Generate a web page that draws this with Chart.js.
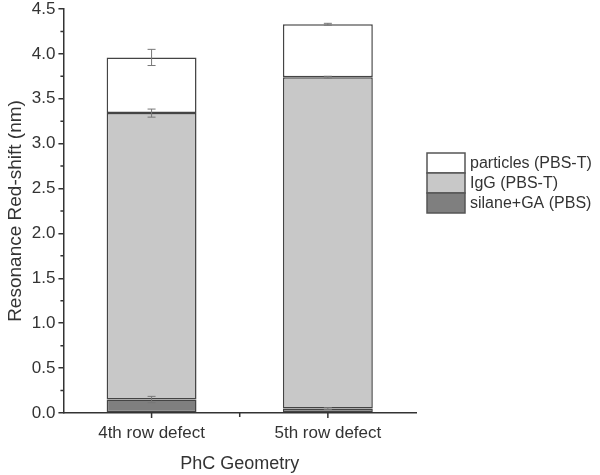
<!DOCTYPE html>
<html>
<head>
<meta charset="utf-8">
<script src="https://cdn.jsdelivr.net/npm/chart.js@4/dist/chart.umd.min.js"></script>
<style>
  html, body { margin: 0; padding: 0; background: #fff; }
  #wrap { width: 600px; height: 475px; position: relative; }
</style>
</head>
<body>
<div id="wrap"><canvas id="chart" width="600" height="475"></canvas></div>
<script>
// data
const categories = ['4th row defect', '5th row defect'];
const silaneVals = [0.15, 0.05];
const silaneErr = [0.035, 0.01];
const iggVals = [3.19, 3.69];
const iggErr = [0.045, 0.01];
const particleVals = [0.62, 0.59];
const particleErr = [0.09, 0.01];
const yTicks = [0, 0.5, 1.0, 1.5, 2.0, 2.5, 3.0, 3.5, 4.0, 4.5];

const textColor = '#333';
const font = 'Liberation Sans, Arial, sans-serif';

// error bars, minor ticks, x tick marks and legend
const extrasPlugin = {
    id: 'extras',
    afterDatasetsDraw(chart) {
        const ctx = chart.ctx;
        const y = chart.scales.y;
        ctx.save();
        ctx.strokeStyle = '#777';
        ctx.lineWidth = 1;
        chart.data.datasets.forEach((ds, di) => {
            const meta = chart.getDatasetMeta(di);
            meta.data.forEach((bar, i) => {
                const err = ds.errors[i];
                const val = y.getValueForPixel(bar.y);
                const y1 = y.getPixelForValue(val + err);
                const y2 = y.getPixelForValue(val - err);
                const cx = bar.x;
                ctx.beginPath();
                ctx.moveTo(cx, y1); ctx.lineTo(cx, y2);
                ctx.moveTo(cx - 4, y1); ctx.lineTo(cx + 4, y1);
                ctx.moveTo(cx - 4, y2); ctx.lineTo(cx + 4, y2);
                ctx.stroke();
            });
        });
        ctx.restore();
    },
    afterDraw(chart) {
        const ctx = chart.ctx;
        const x = chart.scales.x;
        const y = chart.scales.y;
        const area = chart.chartArea;
        ctx.save();
        ctx.strokeStyle = textColor;
        ctx.lineWidth = 1.5;
        // minor y ticks
        ctx.beginPath();
        for (let v = 0.25; v < 4.5; v += 0.5) {
            const py = y.getPixelForValue(v);
            ctx.moveTo(area.left, py); ctx.lineTo(area.left - 3, py);
        }
        // x ticks at categories and between them
        categories.forEach((c, i) => {
            const px = x.getPixelForValue(i);
            ctx.moveTo(px, area.bottom); ctx.lineTo(px, area.bottom + 5);
        });
        const mid = (x.getPixelForValue(0) + x.getPixelForValue(1)) / 2;
        ctx.moveTo(mid, area.bottom); ctx.lineTo(mid, area.bottom + 4);
        ctx.stroke();

        // legend
        const items = chart.data.datasets.slice().reverse();
        const lx = 427, ly = 153, bw = 38, bh = 20;
        ctx.font = '16px ' + font;
        ctx.textBaseline = 'middle';
        items.forEach((ds, k) => {
            const top = ly + k * bh;
            ctx.fillStyle = ds.backgroundColor;
            ctx.fillRect(lx, top, bw, bh);
            ctx.strokeStyle = '#555';
            ctx.lineWidth = 1.5;
            ctx.strokeRect(lx, top, bw, bh);
            ctx.fillStyle = textColor;
            ctx.fillText(ds.label, lx + bw + 5, top + bh / 2 + 1);
        });
        ctx.restore();
    }
};

const barStyle = {
    borderColor: '#444',
    borderWidth: 1.5,
    borderSkipped: false,
    barPercentage: 0.51,
    categoryPercentage: 1.0
};

new Chart(document.getElementById('chart').getContext('2d'), {
    type: 'bar',
    data: {
        labels: categories,
        datasets: [
            { label: 'silane+GA (PBS)', data: silaneVals, errors: silaneErr, backgroundColor: '#7f7f7f', ...barStyle },
            { label: 'IgG (PBS-T)', data: iggVals, errors: iggErr, backgroundColor: '#c8c8c8', ...barStyle },
            { label: 'particles (PBS-T)', data: particleVals, errors: particleErr, backgroundColor: '#ffffff', ...barStyle }
        ]
    },
    options: {
        responsive: false,
        animation: false,
        layout: { padding: { top: 0, right: 184, left: 2, bottom: 0 } },
        plugins: { legend: { display: false }, tooltip: { enabled: false } },
        scales: {
            x: {
                stacked: true,
                grid: { display: false, drawTicks: false },
                border: { display: true, color: textColor, width: 1.5 },
                ticks: { color: textColor, font: { size: 17, family: font }, padding: 10 },
                title: { display: true, text: 'PhC Geometry', color: textColor, font: { size: 18, family: font }, padding: { top: 0, bottom: 0 } }
            },
            y: {
                stacked: true,
                min: 0,
                max: 4.5,
                afterBuildTicks: (scale) => { scale.ticks = yTicks.map(v => ({ value: v })); },
                grid: { drawOnChartArea: false, drawTicks: true, tickLength: 5, color: textColor, lineWidth: 1.5 },
                border: { display: true, color: textColor, width: 1.5 },
                ticks: { color: textColor, font: { size: 17, family: font, lineHeight: 0.7 }, padding: 3, callback: v => v.toFixed(1) },
                title: { display: true, text: 'Resonance Red-shift (nm)', color: textColor, font: { size: 19, family: font }, padding: 2 }
            }
        }
    },
    plugins: [extrasPlugin]
});
</script>
</body>
</html>
